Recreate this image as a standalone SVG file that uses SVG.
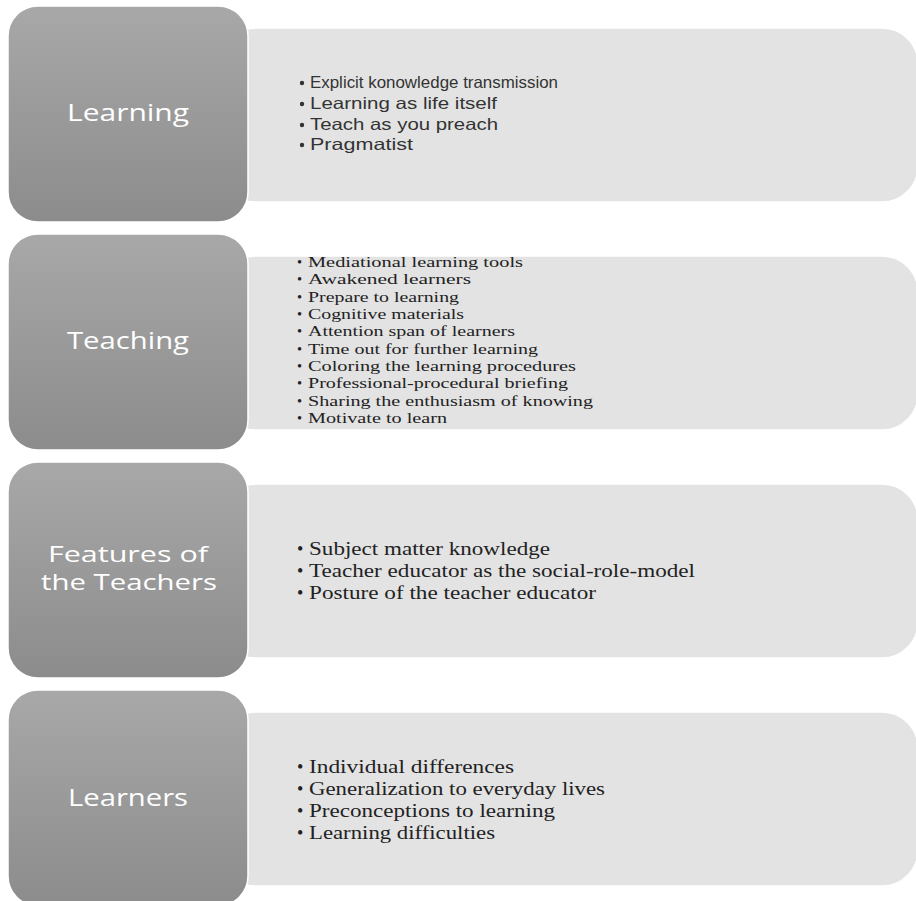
<svg xmlns="http://www.w3.org/2000/svg" width="916" height="901" viewBox="0 0 916 901">
<defs>
<linearGradient id="lg" x1="0" y1="0" x2="0" y2="1">
<stop offset="0" stop-color="#a8a8a8"/>
<stop offset="1" stop-color="#8c8c8c"/>
</linearGradient>
<style>
.lbox{fill:url(#lg);stroke:#ffffff;stroke-width:1.5}
.rbox{fill:#e3e3e3;stroke:#ffffff;stroke-width:1.5}
.lab{font-family:"Open Sans","DejaVu Sans",sans-serif;font-size:23px;fill:#ffffff;text-anchor:middle}
.lab2{font-family:"Open Sans","DejaVu Sans",sans-serif;font-size:21px;fill:#ffffff;text-anchor:middle}
.sans{font-family:"Liberation Sans","Open Sans",sans-serif;font-size:16.5px;fill:#333333}
.ser{font-family:"Liberation Serif","Times New Roman",serif;font-size:14.5px;fill:#222222}
.ser2{font-family:"Liberation Serif","Times New Roman",serif;font-size:18px;fill:#222222}
.dot{fill:#333333}
</style>
</defs>
<rect width="916" height="901" fill="#ffffff"/>

<g id="row-learning">
<rect class="rbox" x="220" y="28" width="698" height="174" rx="36"/>
<rect class="lbox" x="8" y="6" width="240" height="216" rx="30"/>
<text class="lab" x="128" y="121" textLength="122" lengthAdjust="spacingAndGlyphs">Learning</text>
<circle class="dot" cx="302" cy="83" r="2.2"/>
<circle class="dot" cx="302" cy="104" r="2.2"/>
<circle class="dot" cx="302" cy="125" r="2.2"/>
<circle class="dot" cx="302" cy="145" r="2.2"/>
<text class="sans" x="310" y="88" textLength="248" lengthAdjust="spacingAndGlyphs">Explicit konowledge transmission</text>
<text class="sans" x="310" y="109" textLength="187" lengthAdjust="spacingAndGlyphs">Learning as life itself</text>
<text class="sans" x="310" y="130" textLength="188" lengthAdjust="spacingAndGlyphs">Teach as you  preach</text>
<text class="sans" x="310" y="150" textLength="103" lengthAdjust="spacingAndGlyphs">Pragmatist</text>
</g>

<g id="row-teaching">
<rect class="rbox" x="220" y="256" width="698" height="174" rx="36"/>
<rect class="lbox" x="8" y="234" width="240" height="216" rx="30"/>
<text class="lab" x="128" y="349" textLength="122" lengthAdjust="spacingAndGlyphs">Teaching</text>
<g class="ser">
<text x="297" y="267">•</text><text x="308" y="267" textLength="215" lengthAdjust="spacingAndGlyphs">Mediational learning  tools</text>
<text x="297" y="284">•</text><text x="308" y="284" textLength="163" lengthAdjust="spacingAndGlyphs">Awakened learners</text>
<text x="297" y="302">•</text><text x="308" y="302" textLength="151" lengthAdjust="spacingAndGlyphs">Prepare to learning</text>
<text x="297" y="319">•</text><text x="308" y="319" textLength="156" lengthAdjust="spacingAndGlyphs">Cognitive  materials</text>
<text x="297" y="336">•</text><text x="308" y="336" textLength="207" lengthAdjust="spacingAndGlyphs">Attention span of learners</text>
<text x="297" y="354">•</text><text x="308" y="354" textLength="230" lengthAdjust="spacingAndGlyphs">Time out for further learning</text>
<text x="297" y="371">•</text><text x="308" y="371" textLength="268" lengthAdjust="spacingAndGlyphs">Coloring  the learning  procedures</text>
<text x="297" y="388">•</text><text x="308" y="388" textLength="260" lengthAdjust="spacingAndGlyphs">Professional-procedural  briefing</text>
<text x="297" y="406">•</text><text x="308" y="406" textLength="285" lengthAdjust="spacingAndGlyphs">Sharing  the enthusiasm of knowing</text>
<text x="297" y="423">•</text><text x="308" y="423" textLength="139" lengthAdjust="spacingAndGlyphs">Motivate to learn</text>
</g>
</g>

<g id="row-features">
<rect class="rbox" x="220" y="484" width="698" height="174" rx="36"/>
<rect class="lbox" x="8" y="462" width="240" height="216" rx="30"/>
<text class="lab2" x="128" y="562" textLength="160" lengthAdjust="spacingAndGlyphs">Features of</text>
<text class="lab2" x="129" y="590" textLength="176" lengthAdjust="spacingAndGlyphs">the Teachers</text>
<g class="ser2">
<text x="297" y="555">•</text><text x="309" y="555" textLength="241" lengthAdjust="spacingAndGlyphs">Subject matter knowledge</text>
<text x="297" y="577">•</text><text x="309" y="577" textLength="386" lengthAdjust="spacingAndGlyphs">Teacher educator as the social-role-model</text>
<text x="297" y="599">•</text><text x="309" y="599" textLength="287" lengthAdjust="spacingAndGlyphs">Posture of the teacher educator</text>
</g>
</g>

<g id="row-learners">
<rect class="rbox" x="220" y="712" width="698" height="174" rx="36"/>
<rect class="lbox" x="8" y="690" width="240" height="216" rx="30"/>
<text class="lab" x="128" y="806" textLength="120" lengthAdjust="spacingAndGlyphs">Learners</text>
<g class="ser2">
<text x="297" y="773">•</text><text x="309" y="773" textLength="205" lengthAdjust="spacingAndGlyphs">Individual differences</text>
<text x="297" y="795">•</text><text x="309" y="795" textLength="296" lengthAdjust="spacingAndGlyphs">Generalization to everyday lives</text>
<text x="297" y="817">•</text><text x="309" y="817" textLength="246" lengthAdjust="spacingAndGlyphs">Preconceptions to learning</text>
<text x="297" y="839">•</text><text x="309" y="839" textLength="186" lengthAdjust="spacingAndGlyphs">Learning difficulties</text>
</g>
</g>

<g id="connectors"></g>
</svg>
